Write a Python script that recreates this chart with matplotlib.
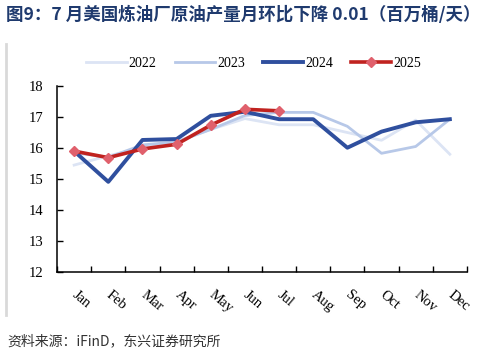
import matplotlib
matplotlib.use("Agg")
import matplotlib.pyplot as plt
from matplotlib.lines import Line2D

# datos (millones de barriles/dia)
meses = ["Jan", "Feb", "Mar", "Apr", "May", "Jun", "Jul", "Aug", "Sep", "Oct", "Nov", "Dec"]
v2022 = [15.45, 15.75, 16.0, 16.2, 16.6, 16.95, 16.75, 16.75, 16.5, 16.25, 16.9, 15.8]
v2023 = [15.85, 15.7, 16.1, 16.2, 16.6, 17.05, 17.15, 17.15, 16.7, 15.83, 16.05, 16.93]
v2024 = [15.9, 14.91, 16.26, 16.29, 17.04, 17.17, 16.93, 16.93, 16.01, 16.53, 16.83, 16.93]
v2025 = [15.9, 15.69, 15.97, 16.12, 16.74, 17.25, 17.2]

titulo = "图9：7 月美国炼油厂原油产量月环比下降 0.01（百万桶/天）"
fuente = "资料来源：iFinD，东兴证券研究所"

serif = ["Liberation Serif", "DejaVu Serif"]
cjk = ["Noto Sans CJK SC", "DejaVu Sans"]

fig = plt.figure(figsize=(4.92, 3.57), dpi=100)
ax = fig.add_axes([0.116, 0.238, 0.833, 0.521])

x = list(range(12))
ax.plot(x, v2022, color="#dce4f4", lw=2, label="2022")
ax.plot(x, v2023, color="#b7c8e8", lw=2, label="2023")
ax.plot(x, v2024, color="#2f4f9e", lw=2.8, label="2024")
ax.plot(x[:len(v2025)], v2025, color="#c0221f", lw=2.6, marker="D",
        markersize=5.5, markerfacecolor="#e0606c", markeredgecolor="#e0606c", label="2025")

ax.set_xlim(-0.5, 11.5)
ax.set_ylim(12, 18)
ax.set_yticks(range(12, 19))
ax.set_yticklabels([str(v) for v in range(12, 19)], fontfamily=serif, fontsize=10.5)
ax.set_xticks(x)
ax.set_xticklabels(meses, fontfamily=serif, fontsize=10.5, rotation=-40,
                   ha="left", va="center", rotation_mode="anchor")
ax.set_xticks([i + 0.5 for i in range(-1, 12)], minor=True)
ax.tick_params(axis="x", which="major", length=0, pad=15)
ax.tick_params(axis="x", which="minor", direction="in", length=4, width=1)
ax.tick_params(axis="y", direction="in", length=4, width=1, pad=10)
for s in ["top", "right"]:
    ax.spines[s].set_visible(False)
for s in ["left", "bottom"]:
    ax.spines[s].set_linewidth(1.1)

ax.legend(loc="lower center", bbox_to_anchor=(0.48, 1.02), ncol=4, frameon=False,
          prop={"family": serif, "size": 10}, handlelength=2.9, handletextpad=0.15,
          columnspacing=1.3)

fig.text(0.012, 0.957, titulo, fontfamily=cjk, fontsize=12.6, fontweight="bold",
         color="#1f3a6e", va="center")
fig.text(0.015, 0.045, fuente, fontfamily=cjk, fontsize=10, color="#333333",
         va="center", style="italic")
fig.add_artist(Line2D([0.012, 0.012], [1 - 44 / 357, 1 - 315 / 357],
                      transform=fig.transFigure, color="#d9d9d9", lw=2))

fig.savefig("out.png", dpi=100)
